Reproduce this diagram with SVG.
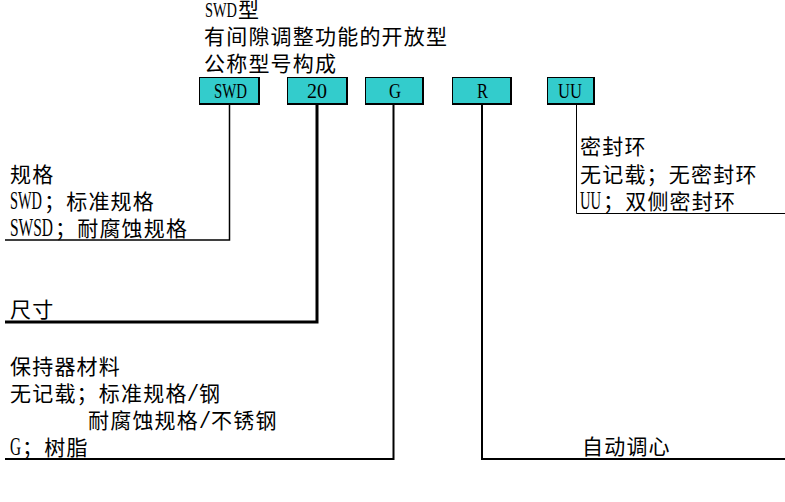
<svg xmlns="http://www.w3.org/2000/svg" width="785" height="502" viewBox="0 0 785 502">
<style>
.c{font-family:"Noto Sans CJK SC","Noto Sans CJK JP",sans-serif;font-size:21px;letter-spacing:1.2px;fill:#000}
.l{font-family:"Liberation Serif",serif;font-size:26px;fill:#000}
.b{font-family:"Liberation Serif",serif;font-size:21px;fill:#000}
.box{fill:#33CCCC;stroke:#000;stroke-width:1}
.sh{fill:none;stroke:#000;stroke-width:2}
.con{fill:none;stroke:#000}
</style>
<rect width="785" height="502" fill="#fff"/>
<g id="title">
<text class="b" x="205" y="17" textLength="32" lengthAdjust="spacingAndGlyphs">SWD</text>
<text class="c" x="238" y="17">型</text>
<text class="c" x="204" y="44">有间隙调整功能的开放型</text>
<text class="c" x="204" y="71">公称型号构成</text>
</g>
<g id="connectors">
<path class="con" stroke-width="1.5" d="M229.5,104 V240 H5"/>
<path class="con" stroke-width="3" d="M317,104 V322 H5"/>
<path class="con" stroke-width="2" d="M393.5,104 V459 H5"/>
<path class="con" stroke-width="2" d="M482,104 V459 H785"/>
<path class="con" stroke-width="1" d="M576.5,104 V213.5 H785"/>
</g>
<g id="node-swd">
<rect class="box" x="199.5" y="77.5" width="59" height="26"/>
<path class="sh" d="M259,77 V104 H199"/>
<text class="b" x="230.5" y="98" text-anchor="middle" textLength="33" lengthAdjust="spacingAndGlyphs">SWD</text>
</g>
<g id="node-20">
<rect class="box" x="287.5" y="77.5" width="59" height="26"/>
<path class="sh" d="M347,77 V104 H287"/>
<text class="b" x="317" y="98" text-anchor="middle" textLength="20" lengthAdjust="spacingAndGlyphs">20</text>
</g>
<g id="node-g">
<rect class="box" x="365.5" y="77.5" width="57" height="26"/>
<path class="sh" d="M423,77 V104 H365"/>
<text class="b" x="395" y="98" text-anchor="middle" textLength="12" lengthAdjust="spacingAndGlyphs">G</text>
</g>
<g id="node-r">
<rect class="box" x="452.5" y="77.5" width="58" height="26"/>
<path class="sh" d="M511,77 V104 H452"/>
<text class="b" x="482.5" y="98" text-anchor="middle" textLength="11" lengthAdjust="spacingAndGlyphs">R</text>
</g>
<g id="node-uu">
<rect class="box" x="547.5" y="77.5" width="46" height="26"/>
<path class="sh" d="M594,77 V104 H547"/>
<text class="b" x="570" y="98" text-anchor="middle" textLength="24" lengthAdjust="spacingAndGlyphs">UU</text>
</g>
<g id="label-spec">
<text class="c" x="10" y="182">规格</text>
<text class="l" x="10" y="209" textLength="32" lengthAdjust="spacingAndGlyphs">SWD</text>
<text class="c" x="44" y="209">；标准规格</text>
<text class="l" x="10" y="236" textLength="43" lengthAdjust="spacingAndGlyphs">SWSD</text>
<text class="c" x="55" y="236">；耐腐蚀规格</text>
</g>
<g id="label-size">
<text class="c" x="10" y="317">尺寸</text>
</g>
<g id="label-cage">
<text class="c" x="10" y="374">保持器材料</text>
<text class="c" x="10" y="401">无记载；标准规格</text>
<text class="l" x="188" y="401" textLength="10" lengthAdjust="spacingAndGlyphs">/</text>
<text class="c" x="199" y="401">钢</text>
<text class="c" x="88" y="428">耐腐蚀规格</text>
<text class="l" x="200" y="428" textLength="10" lengthAdjust="spacingAndGlyphs">/</text>
<text class="c" x="211" y="428">不锈钢</text>
<text class="l" x="10" y="455" textLength="11" lengthAdjust="spacingAndGlyphs">G</text>
<text class="c" x="22" y="455">；树脂</text>
</g>
<g id="label-seal">
<text class="c" x="580" y="154">密封环</text>
<text class="c" x="580" y="182">无记载；无密封环</text>
<text class="l" x="580" y="209" textLength="21" lengthAdjust="spacingAndGlyphs">UU</text>
<text class="c" x="603" y="209">；双侧密封环</text>
</g>
<g id="label-align">
<text class="c" x="582" y="454">自动调心</text>
</g>
</svg>
